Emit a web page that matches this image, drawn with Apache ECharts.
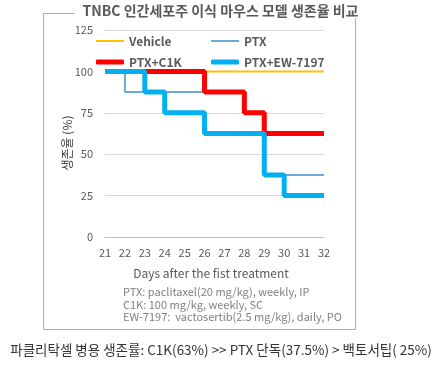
<!DOCTYPE html>
<html><head><meta charset="utf-8">
<script src="https://cdn.jsdelivr.net/npm/echarts@6/dist/echarts.min.js"></script>
<style>html,body{margin:0;padding:0;background:#fff}#c{width:441px;height:366px}</style>
</head><body><div id="c"></div>
<script>
const days = [21,22,23,24,25,26,27,28,29,30,31,32];
const vehicle = [100,100,100,100,100,100,100,100,100,100,100,100];
const ptx = [100,87.5,87.5,87.5,87.5,87.5,87.5,75,37.5,37.5,37.5,37.5];
const ptxC1K = [100,100,100,100,100,87.5,87.5,75,62.5,62.5,62.5,62.5];
const ptxEW = [100,100,87.5,75,75,62.5,62.5,62.5,37.5,25,25,25];
const yTicks = [0,25,50,75,100,125];
const titleText = 'TNBC 인간세포주 이식 마우스 모델 생존율 비교';
const xName = 'Days after the fist treatment';
const yName = '생존율 (%)';
const notes = ['PTX: paclitaxel(20 mg/kg), weekly, IP','C1K: 100 mg/kg, weekly, SC','EW-7197:  vactosertib(2.5 mg/kg), daily, PO'];
const caption = '파클리탁셀 병용 생존률: C1K(63%) >> PTX 단독(37.5%) > 백토서팁( 25%)';

const FF = '"Noto Sans CJK KR","Noto Sans",sans-serif';
const pairs = a => days.map((d,i)=>[d,a[i]]);
const chart = echarts.init(document.getElementById('c'), null, {renderer:'canvas'});
const legendBase = {itemWidth:28, textStyle:{color:'#595959', fontSize:12, fontFamily:FF, fontWeight:'bold'}, selectedMode:false, padding:0, itemGap:4};
chart.setOption({
  animation:false,
  title:{text:titleText, left:'center', top:4, padding:[0,8], backgroundColor:'#fff',
    textStyle:{fontSize:14, fontWeight:'bold', color:'#595959', fontFamily:FF}},
  grid:{left:105, right:117, top:30, bottom:129},
  legend:[
    Object.assign({}, legendBase, {data:['Vehicle'], icon:'rect', itemHeight:2, left:96, top:35}),
    Object.assign({}, legendBase, {data:['PTX'], icon:'rect', itemHeight:2, left:211, top:35}),
    Object.assign({}, legendBase, {data:['PTX+C1K'], icon:'roundRect', itemHeight:5, left:96, top:56}),
    Object.assign({}, legendBase, {data:['PTX+EW-7197'], icon:'roundRect', itemHeight:5, left:211, top:56})
  ],
  xAxis:{type:'value', min:21, max:32, interval:1,
    axisLine:{show:true, lineStyle:{color:'#bfbfbf'}}, axisTick:{show:false},
    splitLine:{show:false},
    axisLabel:{color:'#595959', fontSize:11, fontFamily:FF, margin:10}},
  yAxis:{type:'value', min:0, max:125, interval:25,
    axisLine:{show:false}, axisTick:{show:false},
    splitLine:{lineStyle:{color:'#d9d9d9'}},
    axisLabel:{color:'#595959', fontSize:11, fontFamily:FF, margin:12,
      formatter:v=>yTicks.includes(v)?String(v):''}},
  series:[
    {name:'Vehicle', type:'line', step:'end', data:pairs(vehicle), symbol:'none', lineStyle:{color:'#FFC000', width:2}, itemStyle:{color:'#FFC000'}},
    {name:'PTX', type:'line', step:'end', data:pairs(ptx), symbol:'none', lineStyle:{color:'#6AAAD8', width:2}, itemStyle:{color:'#6AAAD8'}},
    {name:'PTX+C1K', type:'line', step:'end', data:pairs(ptxC1K), symbol:'none', lineStyle:{color:'#FF0000', width:5}, itemStyle:{color:'#FF0000'}},
    {name:'PTX+EW-7197', type:'line', step:'end', data:pairs(ptxEW), symbol:'none', lineStyle:{color:'#00B0F0', width:5}, itemStyle:{color:'#00B0F0'}}
  ],
  graphic:[
    {type:'rect', z:-10, shape:{x:43.5, y:13.5, width:312, height:316}, style:{fill:'none', stroke:'#8FB4C8', lineWidth:1}},
    {type:'text', rotation:Math.PI/2, x:67, y:143, style:{text:yName, fill:'#404040', font:'12px '+FF, align:'center', verticalAlign:'middle'}},
    {type:'text', x:211, y:273, style:{text:xName, fill:'#595959', font:'12px '+FF, align:'center', verticalAlign:'middle'}},
    {type:'text', x:123, y:292, style:{text:notes[0], fill:'#808080', font:'11px '+FF, verticalAlign:'middle'}},
    {type:'text', x:123, y:305, style:{text:notes[1], fill:'#808080', font:'11px '+FF, verticalAlign:'middle'}},
    {type:'text', x:123, y:317, style:{text:notes[2], fill:'#808080', font:'11px '+FF, verticalAlign:'middle'}},
    {type:'text', x:221, y:350, style:{text:caption, fill:'#333333', font:'13.5px '+FF, align:'center', verticalAlign:'middle'}}
  ]
});
</script></body></html>
